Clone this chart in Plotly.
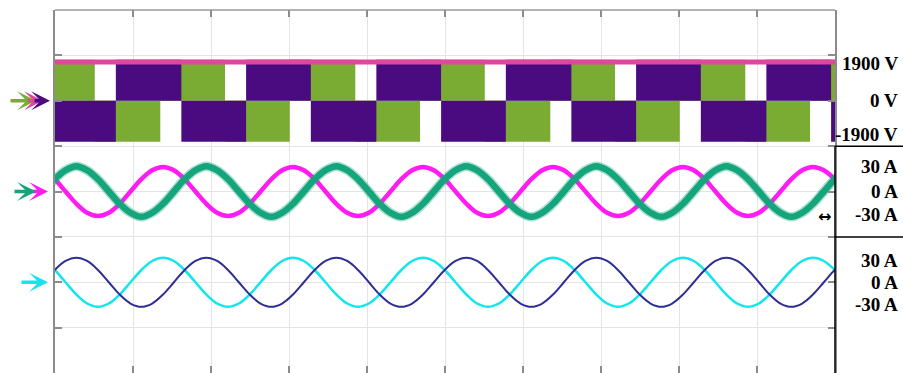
import plotly.graph_objects as go

# ---------------- data ----------------
# time axis in ms, 10 ms per division, 0..100 ms shown
time_ms = [-2.82, -1.43, -0.04, 1.35, 2.74, 4.12, 5.51, 6.90, 8.29, 9.68, 11.07, 12.46,
           13.85, 15.24, 16.62, 18.01, 19.40, 20.79, 22.18, 23.57, 24.96, 26.35, 27.74, 29.12,
           30.51, 31.90, 33.29, 34.68, 36.07, 37.46, 38.85, 40.24, 41.62, 43.01, 44.40, 45.79,
           47.18, 48.57, 49.96, 51.35, 52.74, 54.12, 55.51, 56.90, 58.29, 59.68, 61.07, 62.46,
           63.85, 65.24, 66.62, 68.01, 69.40, 70.79, 72.18, 73.57, 74.96, 76.35, 77.74, 79.12,
           80.51, 81.90, 83.29, 84.68, 86.07, 87.46, 88.85, 90.24, 91.62, 93.01, 94.40, 95.79,
           97.18, 98.57, 99.96, 101.35]

# middle panel currents (A)
i_mag = [30, 26, 15, 0, -15, -26, -30, -26, -15, 0, 15, 26,
         30, 26, 15, 0, -15, -26, -30, -26, -15, 0, 15, 26,
         30, 26, 15, 0, -15, -26, -30, -26, -15, 0, 15, 26,
         30, 26, 15, 0, -15, -26, -30, -26, -15, 0, 15, 26,
         30, 26, 15, 0, -15, -26, -30, -26, -15, 0, 15, 26,
         30, 26, 15, 0, -15, -26, -30, -26, -15, 0, 15, 26,
         30, 26, 15, 0]
i_teal = [-15, 0, 15, 26, 31, 26, 15, 0, -15, -26, -31, -26,
          -15, 0, 15, 26, 31, 26, 15, 0, -15, -26, -31, -26,
          -15, 0, 15, 26, 31, 26, 15, 0, -15, -26, -31, -26,
          -15, 0, 15, 26, 31, 26, 15, 0, -15, -26, -31, -26,
          -15, 0, 15, 26, 31, 26, 15, 0, -15, -26, -31, -26,
          -15, 0, 15, 26, 31, 26, 15, 0, -15, -26, -31, -26,
          -15, 0, 15, 26]
# bottom panel currents (A)
i_cyan = [30, 26, 15, 0, -15, -26, -30, -26, -15, 0, 15, 26,
          30, 26, 15, 0, -15, -26, -30, -26, -15, 0, 15, 26,
          30, 26, 15, 0, -15, -26, -30, -26, -15, 0, 15, 26,
          30, 26, 15, 0, -15, -26, -30, -26, -15, 0, 15, 26,
          30, 26, 15, 0, -15, -26, -30, -26, -15, 0, 15, 26,
          30, 26, 15, 0, -15, -26, -30, -26, -15, 0, 15, 26,
          30, 26, 15, 0]
i_navy = [-15, 0, 15, 26, 30, 26, 15, 0, -15, -26, -30, -26,
          -15, 0, 15, 26, 30, 26, 15, 0, -15, -26, -30, -26,
          -15, 0, 15, 26, 30, 26, 15, 0, -15, -26, -30, -26,
          -15, 0, 15, 26, 30, 26, 15, 0, -15, -26, -30, -26,
          -15, 0, 15, 26, 30, 26, 15, 0, -15, -26, -30, -26,
          -15, 0, 15, 26, 30, 26, 15, 0, -15, -26, -30, -26,
          -15, 0, 15, 26]

# top panel PWM voltage envelopes (V): intervals [start, end] in ms with level
green_start = [-3.2, 5.1, 13.5, 21.8, 30.1, 38.5, 46.8, 55.1, 63.5, 71.8, 80.1, 88.5, 96.8]
green_end = [5.1, 13.5, 21.8, 30.1, 38.5, 46.8, 55.1, 63.5, 71.8, 80.1, 88.5, 96.8, 105.1]
green_level = [1950, -1950, 1950, -1950, 1950, -1950, 1950, -1950, 1950, -1950, 1950, -1950, 1950]
purple_start = [-8.8, -0.5, 7.8, 16.2, 24.5, 32.8, 41.2, 49.5, 57.8, 66.2, 74.5, 82.8, 91.2, 99.5]
purple_end = [-0.5, 7.8, 16.2, 24.5, 32.8, 41.2, 49.5, 57.8, 66.2, 74.5, 82.8, 91.2, 99.5, 107.8]
purple_level = [1950, -1950, 1950, -1950, 1950, -1950, 1950, -1950, 1950, -1950, 1950, -1950, 1950, -1950]
dc_time = [0, 100]
dc_volt = [1850, 1850]

volt_labels = ["1900 V", "0 V", "-1900 V"]
amp_labels = ["30 A", "0 A", "-30 A"]

# ---------------- colours ----------------
C_GREEN = "#7aab33"
C_PURPLE = "#4a0a80"
C_PINK = "#e0469e"
C_MAG = "#ff1cf2"
C_TEAL = "#14a57c"
C_CYAN = "#12e6ec"
C_NAVY = "#2e2e96"
C_AXIS = "#8c8c8c"

fig = go.Figure()

def bar_trace(starts, ends, levels, color):
    centers = [(a + b) / 2 for a, b in zip(starts, ends)]
    widths = [b - a for a, b in zip(starts, ends)]
    return go.Bar(x=centers, y=levels, base=0, width=widths,
                  marker=dict(color=color, line=dict(width=0)),
                  xaxis="x", yaxis="y", hoverinfo="skip")

fig.add_trace(bar_trace(green_start, green_end, green_level, C_GREEN))
fig.add_trace(bar_trace(purple_start, purple_end, purple_level, C_PURPLE))
fig.add_trace(go.Scatter(x=dc_time, y=dc_volt, mode="lines",
                         line=dict(color=C_PINK, width=5), yaxis="y"))

# middle panel
fig.add_trace(go.Scatter(x=time_ms, y=i_mag, mode="lines", yaxis="y2",
                         line=dict(color=C_MAG, width=4.5, shape="spline")))
fig.add_trace(go.Scatter(x=time_ms, y=i_teal, mode="lines", yaxis="y2", opacity=0.35,
                         line=dict(color=C_TEAL, width=9.5, shape="spline")))
fig.add_trace(go.Scatter(x=time_ms, y=i_teal, mode="lines", yaxis="y2",
                         line=dict(color=C_TEAL, width=6.5, shape="spline")))
# bottom panel
fig.add_trace(go.Scatter(x=time_ms, y=i_cyan, mode="lines", yaxis="y3",
                         line=dict(color=C_CYAN, width=2.5, shape="spline")))
fig.add_trace(go.Scatter(x=time_ms, y=i_navy, mode="lines", yaxis="y3",
                         line=dict(color=C_NAVY, width=2, shape="spline")))

AX = dict(showgrid=True, gridcolor="#e4e4e4", gridwidth=1, zeroline=False,
          showticklabels=False, ticks="inside", ticklen=7, tickwidth=1.5,
          tickcolor=C_AXIS, mirror="ticks")

VDIV = 2160
ADIV = 55.5
fig.update_layout(
    width=903, height=373,
    margin=dict(l=55, r=68, t=10, b=0),
    paper_bgcolor="white", plot_bgcolor="white",
    showlegend=False, barmode="overlay",
    xaxis=dict(range=[0, 100], dtick=10, tick0=0, showline=False, **AX),
    yaxis=dict(range=[-6 * VDIV, 2 * VDIV], dtick=VDIV, tick0=0, showline=True,
               linecolor=C_AXIS, linewidth=1.5, **AX),
    yaxis2=dict(range=[-4 * ADIV, 4 * ADIV], overlaying="y", visible=False),
    yaxis3=dict(range=[-2 * ADIV, 6 * ADIV], overlaying="y", visible=False),
)

# top border
fig.add_shape(type="line", xref="paper", yref="paper", x0=0, x1=1, y0=1, y1=1,
              line=dict(color="#9a9a9a", width=1.5))

# right-hand labels
LBL = dict(family="Liberation Serif", size=19, color="black")
XR = (900 - 55) / 780
for txt, yv in zip(volt_labels, [1760, 0, -1620]):
    fig.add_annotation(x=XR, y=yv, xref="paper", yref="y", text="<b>%s</b>" % txt,
                       showarrow=False, xanchor="right", yanchor="middle", font=LBL)
for txt, yv in zip(amp_labels, [30, 0, -28]):
    fig.add_annotation(x=XR, y=yv, xref="paper", yref="y2", text="<b>%s</b>" % txt,
                       showarrow=False, xanchor="right", yanchor="middle", font=LBL)
for txt, yv in zip(amp_labels, [26, 0, -27]):
    fig.add_annotation(x=XR, y=yv, xref="paper", yref="y3", text="<b>%s</b>" % txt,
                       showarrow=False, xanchor="right", yanchor="middle", font=LBL)

# separators and right border
XE = (903 - 55) / 780
fig.add_shape(type="line", xref="paper", yref="y", x0=1, x1=XE, y0=-VDIV, y1=-VDIV,
              line=dict(color="black", width=1.5))
fig.add_shape(type="line", xref="paper", yref="y", x0=1, x1=XE, y0=-3 * VDIV, y1=-3 * VDIV,
              line=dict(color="black", width=1.5))
fig.add_shape(type="line", xref="paper", yref="y", x0=1, x1=1, y0=-VDIV, y1=-6 * VDIV,
              line=dict(color="black", width=1.5))

# channel marker arrows on the left
def px(xp):
    return (xp - 55) / 780

def arrow(tip, tail, yv, yref, color):
    fig.add_annotation(x=px(tip), y=yv, xref="paper", yref=yref, ax=tail - tip, ay=0,
                       text="", showarrow=True, arrowhead=3, arrowsize=0.9,
                       arrowwidth=3.5, arrowcolor=color)

arrow(36, 9, 0, "y", C_GREEN)
arrow(43, 26, 0, "y", C_PINK)
arrow(50, 33, 0, "y", C_PURPLE)
arrow(48, 30, 0, "y2", C_MAG)
arrow(36, 13, 0, "y2", C_TEAL)
arrow(48, 20, 0, "y3", C_CYAN)

# small double arrow marker
fig.add_annotation(x=98.6, y=-30, xref="x", yref="y2", text="<b>↔</b>", showarrow=False,
                   font=dict(family="DejaVu Sans", size=16, color="black"))

fig.write_html("out.html")
